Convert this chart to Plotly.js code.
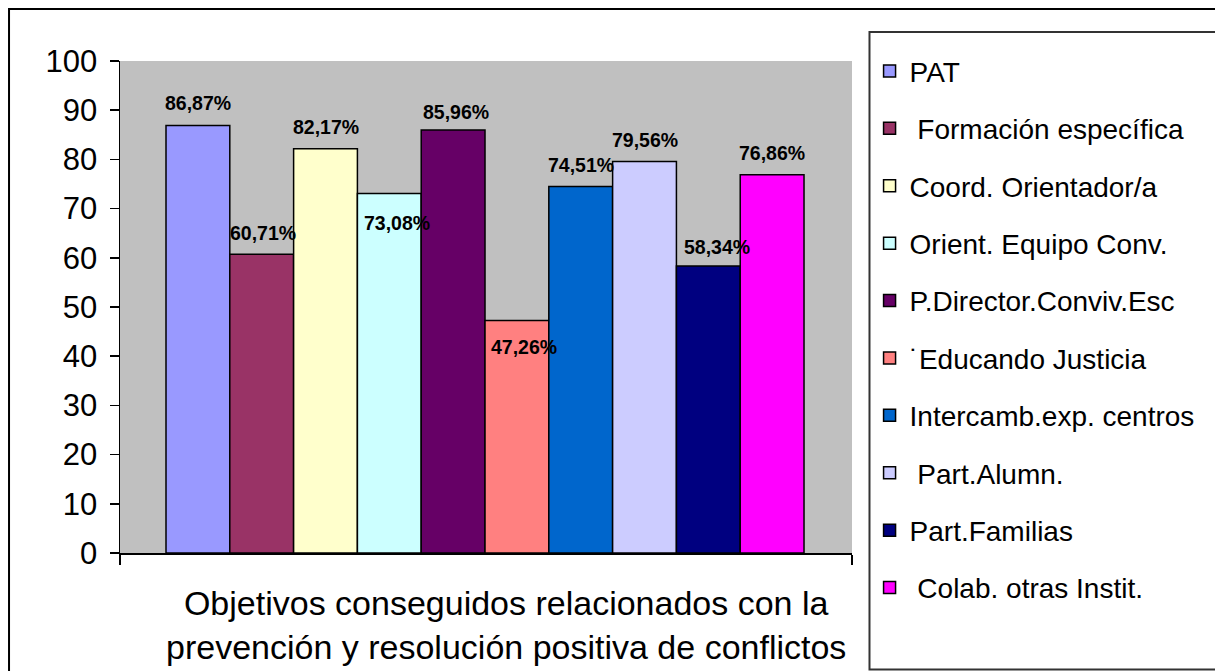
<!DOCTYPE html>
<html>
<head>
<meta charset="utf-8">
<script src="https://cdn.plot.ly/plotly-3.0.1.min.js"></script>
<style>
  body { margin: 0; background: #fff; }
  #chart { width: 1215px; height: 671px; }
</style>
</head>
<body>
<div id="chart"></div>
<script>
// Series names (as in the legend) and % of objectives reached
var seriesNames = ['PAT', ' Formación específica', 'Coord. Orientador/a', 'Orient. Equipo Conv.',
    'P.Director.Conviv.Esc', '˙Educando Justicia', 'Intercamb.exp. centros', ' Part.Alumn.',
    'Part.Familias', ' Colab. otras Instit.'];
var seriesValues = [86.87, 60.71, 82.17, 73.08, 85.96, 47.26, 74.51, 79.56, 58.34, 76.86];
var seriesColors = ['#9999FF', '#993366', '#FFFFCC', '#CCFFFF', '#660066',
    '#FF8080', '#0066CC', '#CCCCFF', '#000080', '#FF00FF'];
var yTicks = [0, 10, 20, 30, 40, 50, 60, 70, 80, 90, 100];

// where each value label sits relative to its bar top (px)
var labelDx = [0, 1, 0, 8, 2.5, 7, 0, 0, 9, 0];
var labelDy = [22.5, 21, 22, -30, 18, -26.5, 21, 21.5, 19, 22];

var data = [];
var annotations = [];

for (var i = 0; i < seriesNames.length; i++) {
    data.push({
        x: [i],
        y: [seriesValues[i]],
        name: seriesNames[i],
        legendgroup: 'g' + i,
        type: 'bar',
        width: 1,
        marker: {color: seriesColors[i], line: {color: '#000', width: 1.5}}
    });
    annotations.push({
        x: i,
        y: seriesValues[i],
        xref: 'x',
        yref: 'y',
        text: seriesValues[i].toFixed(2).replace('.', ',') + '%',
        showarrow: false,
        xanchor: 'center',
        yanchor: 'middle',
        xshift: labelDx[i],
        yshift: labelDy[i],
        font: {family: 'Liberation Sans, Arial, sans-serif', size: 19.5, color: '#000', weight: 'bold'}
    });
}

// axis caption under the plot
annotations.push({
    xref: 'paper', yref: 'paper',
    x: 0.527, y: -0.147,
    xanchor: 'center', yanchor: 'middle',
    text: 'Objetivos conseguidos relacionados con la<br>prevención y resolución positiva de conflictos',
    showarrow: false,
    font: {family: 'Liberation Sans, Arial, sans-serif', size: 34, color: '#000'}
});

var xRange = [-1.221, 10.252];

var layout = {
    width: 1215,
    height: 671,
    barmode: 'overlay',
    paper_bgcolor: '#fff',
    plot_bgcolor: '#C0C0C0',
    font: {family: 'Liberation Sans, Arial, sans-serif', color: '#000'},
    showlegend: true,
    legend: {
        x: 1.024, y: 1.03,
        xanchor: 'left', yanchor: 'top',
        traceorder: 'grouped',
        tracegroupgap: 18,
        maxheight: 660,
        bgcolor: 'rgba(0,0,0,0)',
        borderwidth: 0,
        font: {size: 28, color: '#000'}
    },
    xaxis: {
        range: xRange,
        tickmode: 'array',
        tickvals: xRange,
        showticklabels: false,
        ticks: 'outside',
        ticklen: 10,
        tickwidth: 1.5,
        tickcolor: '#000',
        showline: true,
        linecolor: '#000',
        linewidth: 1.5,
        showgrid: false,
        zeroline: false,
        fixedrange: true
    },
    yaxis: {
        range: [0, 100],
        tickmode: 'array',
        tickvals: yTicks,
        ticks: 'outside',
        ticklen: 9,
        tickwidth: 1.5,
        tickcolor: '#000',
        ticklabelstandoff: 6,
        showline: true,
        linecolor: '#000',
        linewidth: 1.5,
        showgrid: false,
        zeroline: false,
        tickfont: {size: 31, color: '#000'},
        fixedrange: true
    },
    annotations: annotations,
    shapes: [
        // outer chart frame
        {type: 'rect', xref: 'paper', yref: 'paper', x0: -0.1516, x1: 1.6, y0: -0.35, y1: 1.1057,
            line: {color: '#000', width: 2}, fillcolor: 'rgba(0,0,0,0)'},
        // legend frame
        {type: 'rect', xref: 'paper', yref: 'paper', x0: 1.0239, x1: 1.6, y0: -0.2368, y1: 1.0589,
            line: {color: '#333', width: 2}, fillcolor: 'rgba(0,0,0,0)'}
    ],
    margin: {
        t: 61,  //top margin
        l: 120, //left margin
        r: 363, //right margin
        b: 118  //bottom margin
    }
};

Plotly.newPlot('chart', data, layout, {staticPlot: true, displayModeBar: false});
</script>
</body>
</html>
